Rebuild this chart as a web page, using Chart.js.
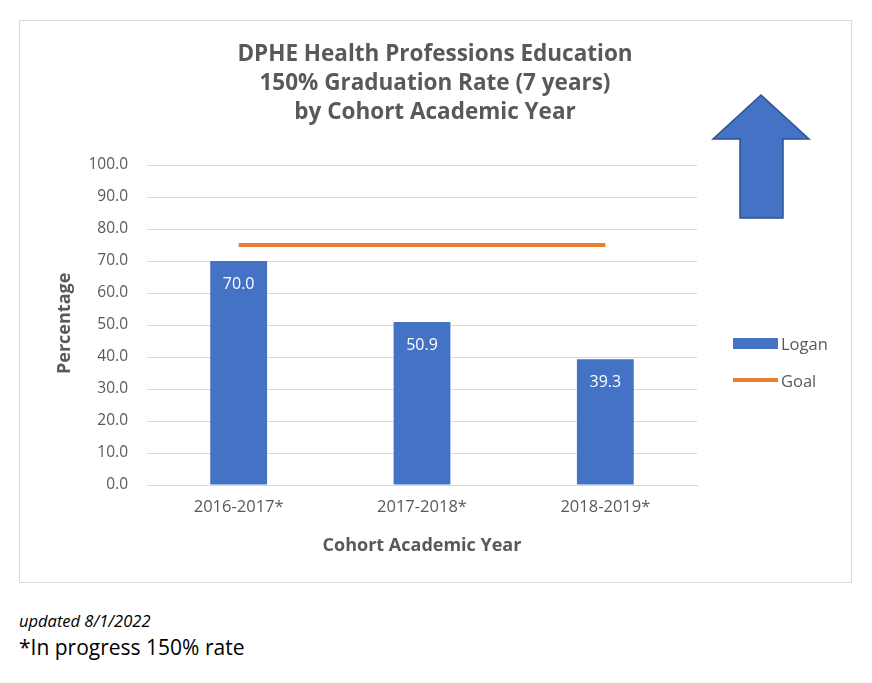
<!DOCTYPE html>
<html><head><meta charset="utf-8">
<script src="https://cdn.jsdelivr.net/npm/chart.js@4"></script>
<style>
body{margin:0;background:#fff;width:872px;height:683px;position:relative;font-family:"Open Sans","Liberation Sans",sans-serif;overflow:hidden}
#box{position:absolute;left:19px;top:20px;width:833px;height:563px;border:1px solid #d9d9d9;box-sizing:border-box}
#cv{position:absolute;left:20px;top:21px}
.t{position:absolute;color:#595959}
</style></head><body>
<div id="box"></div>
<canvas id="cv" width="832" height="562"></canvas>
<div class="t" style="left:185px;top:38px;width:500px;text-align:center;font-weight:bold;font-size:22.5px;line-height:29px">DPHE Health Professions Education<br>150% Graduation Rate (7 years)<br>by Cohort Academic Year</div>
<div class="t" style="left:13px;top:312px;width:100px;text-align:center;transform:rotate(-90deg);font-weight:bold;font-size:18px">Percentage</div>
<div class="t" style="left:222px;top:532px;width:400px;text-align:center;font-weight:bold;font-size:18px">Cohort Academic Year</div>
<div style="position:absolute;left:733px;top:338px;width:45px;height:11px;background:#4472C4"></div>
<div class="t" style="left:781px;top:332px;font-size:16.5px">Logan</div>
<div style="position:absolute;left:733px;top:378px;width:45px;height:4px;background:#ED7D31"></div>
<div class="t" style="left:781px;top:369px;font-size:16.5px">Goal</div>
<div style="position:absolute;left:19px;top:609px;font-style:italic;font-size:16.5px">updated 8/1/2022</div>
<div style="position:absolute;left:19px;top:633px;font-size:21px">*In progress 150% rate</div>
<script>
const categories=["2016-2017*","2017-2018*","2018-2019*"];
const loganValues=[70.0,50.9,39.3];
const goalValues=[75,75,75];
const decor={id:'decor',afterDatasetsDraw(c){
 const x=c.ctx;
 const m=c.getDatasetMeta(1);
 x.save();x.fillStyle='#fff';x.font='16px "Open Sans","Liberation Sans",sans-serif';x.textAlign='center';x.textBaseline='middle';
 m.data.forEach((b,i)=>x.fillText(loganValues[i].toFixed(1),b.x,b.y+23));
 x.beginPath();
 const p=[[741,74],[789,118],[763,118],[763,197],[720,197],[720,118],[693,118]];
 x.moveTo(p[0][0],p[0][1]);p.slice(1).forEach(q=>x.lineTo(q[0],q[1]));x.closePath();
 x.fillStyle='#4472C4';x.fill();x.strokeStyle='#2F528F';x.lineWidth=1.5;x.stroke();
 x.restore();}};
new Chart(document.getElementById('cv'),{
 data:{labels:categories,datasets:[
  {type:'line',label:'Goal',data:goalValues,borderColor:'#ED7D31',borderWidth:4,pointRadius:0,order:0},
  {type:'bar',label:'Logan',data:loganValues,backgroundColor:'#4472C4',barPercentage:0.31,categoryPercentage:1,order:1}]},
 options:{responsive:false,animation:false,
  layout:{padding:{left:0,right:155,top:144,bottom:0}},
  plugins:{legend:{display:false},tooltip:{enabled:false}},
  scales:{
   y:{min:0,max:100,ticks:{stepSize:10,padding:19,color:'#595959',font:{size:15.5,family:'"Open Sans","Liberation Sans",sans-serif'},callback:v=>v.toFixed(1)},
      grid:{color:'#d9d9d9',drawTicks:false},border:{display:false},afterFit(s){s.width=127;}},
   x:{ticks:{padding:12,color:'#595959',font:{size:16.5,family:'"Open Sans","Liberation Sans",sans-serif'}},
      grid:{display:false,drawTicks:false},border:{color:'#d9d9d9'},afterFit(s){s.height=98;}}
  }},
 plugins:[decor]});
</script></body></html>
